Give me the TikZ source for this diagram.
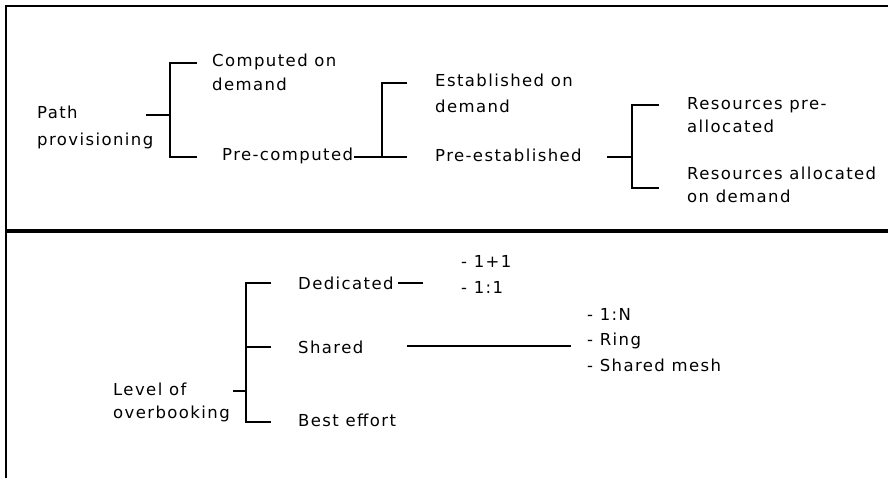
\documentclass[tikz,border=0pt]{standalone}
\usepackage{fontspec}
\setmainfont{DejaVu Sans}[LetterSpace=8.5]
\begin{document}
\begin{tikzpicture}[x=1pt,y=-1pt,
  frameline/.style={line width=2pt},
  sepline/.style={line width=4pt},
  conn/.style={line width=1.8pt},
  lbl/.style={anchor=base west,inner sep=0pt,font=\fontsize{16.5}{23}\selectfont}]
\useasboundingbox (0,0) rectangle (888,478);
% frame
\coordinate (ftr) at (888,6);
\coordinate (ftl) at (6,6);
\coordinate (fbl) at (6,478);
\coordinate (sl) at (6,231.5);
\coordinate (sr) at (888,231.5);
\draw[frameline] (ftr) -- (ftl) -- (fbl);
\draw[sepline] (sl) -- (sr);
% labels top
\node[lbl] (path) at (37,119) {\begin{tabular}[t]{@{}l@{}}Path\\[4pt]provisioning\end{tabular}};
\node[lbl] (comp) at (212,67) {\begin{tabular}[t]{@{}l@{}}Computed on\\[1pt]demand\end{tabular}};
\node[lbl] (precomp) at (222,161) {Pre-computed};
\node[lbl] (estab) at (435,87) {\begin{tabular}[t]{@{}l@{}}Established on\\[3pt]demand\end{tabular}};
\node[lbl] (preest) at (435,162) {Pre-established};
\node[lbl] (respre) at (687,110) {\begin{tabular}[t]{@{}l@{}}Resources pre-\\allocated\end{tabular}};
\node[lbl] (resdem) at (687,180) {\begin{tabular}[t]{@{}l@{}}Resources allocated\\on demand\end{tabular}};
% labels bottom
\node[lbl] (level) at (113,395) {\begin{tabular}[t]{@{}l@{}}Level of\\overbooking\end{tabular}};
\node[lbl] (ded) at (298,289) {Dedicated};
\node[lbl] (shared) at (298,353) {Shared};
\node[lbl] (best) at (298,426) {Best effort};
\node[lbl] (dedlist) at (461,268) {\begin{tabular}[t]{@{}l@{}}- 1+1\\[2pt]- 1:1\end{tabular}};
\node[lbl] (shlist) at (587,320) {\begin{tabular}[t]{@{}l@{}}- 1:N\\[2pt]- Ring\\[3pt]- Shared mesh\end{tabular}};
% bracket A
\coordinate (a0) at (146,115);
\coordinate (a1) at (170,115);
\coordinate (a2) at (197,63);
\coordinate (a3) at (170,63);
\coordinate (a4) at (170,157);
\coordinate (a5) at (197,157);
\draw[conn] (a0) -- (a1);
\draw[conn] (a2) -- (a3) -- (a4) -- (a5);
% bracket B
\coordinate (b0) at (354,157);
\coordinate (b1) at (382,157);
\coordinate (b2) at (407,157);
\coordinate (b3) at (382,83);
\coordinate (b4) at (407,83);
\draw[conn] (b0) -- (b2);
\draw[conn] (b1) -- (b3) -- (b4);
% bracket C
\coordinate (c0) at (607,157);
\coordinate (c1) at (632,157);
\coordinate (c2) at (659,105);
\coordinate (c3) at (632,105);
\coordinate (c4) at (632,188);
\coordinate (c5) at (659,188);
\draw[conn] (c0) -- (c1);
\draw[conn] (c2) -- (c3) -- (c4) -- (c5);
% bracket D
\coordinate (d0) at (233,391);
\coordinate (d1) at (246,391);
\coordinate (d2) at (271,283);
\coordinate (d3) at (246,283);
\coordinate (d4) at (246,422);
\coordinate (d5) at (271,422);
\coordinate (d6) at (246,347);
\coordinate (d7) at (271,347);
\draw[conn] (d0) -- (d1);
\draw[conn] (d2) -- (d3) -- (d4) -- (d5);
\draw[conn] (d6) -- (d7);
% dedicated / shared lines
\coordinate (e0) at (398,283);
\coordinate (e1) at (423,283);
\draw[conn] (e0) -- (e1);
\coordinate (f0) at (407,346);
\coordinate (f1) at (571,346);
\draw[conn] (f0) -- (f1);
\end{tikzpicture}
\end{document}
